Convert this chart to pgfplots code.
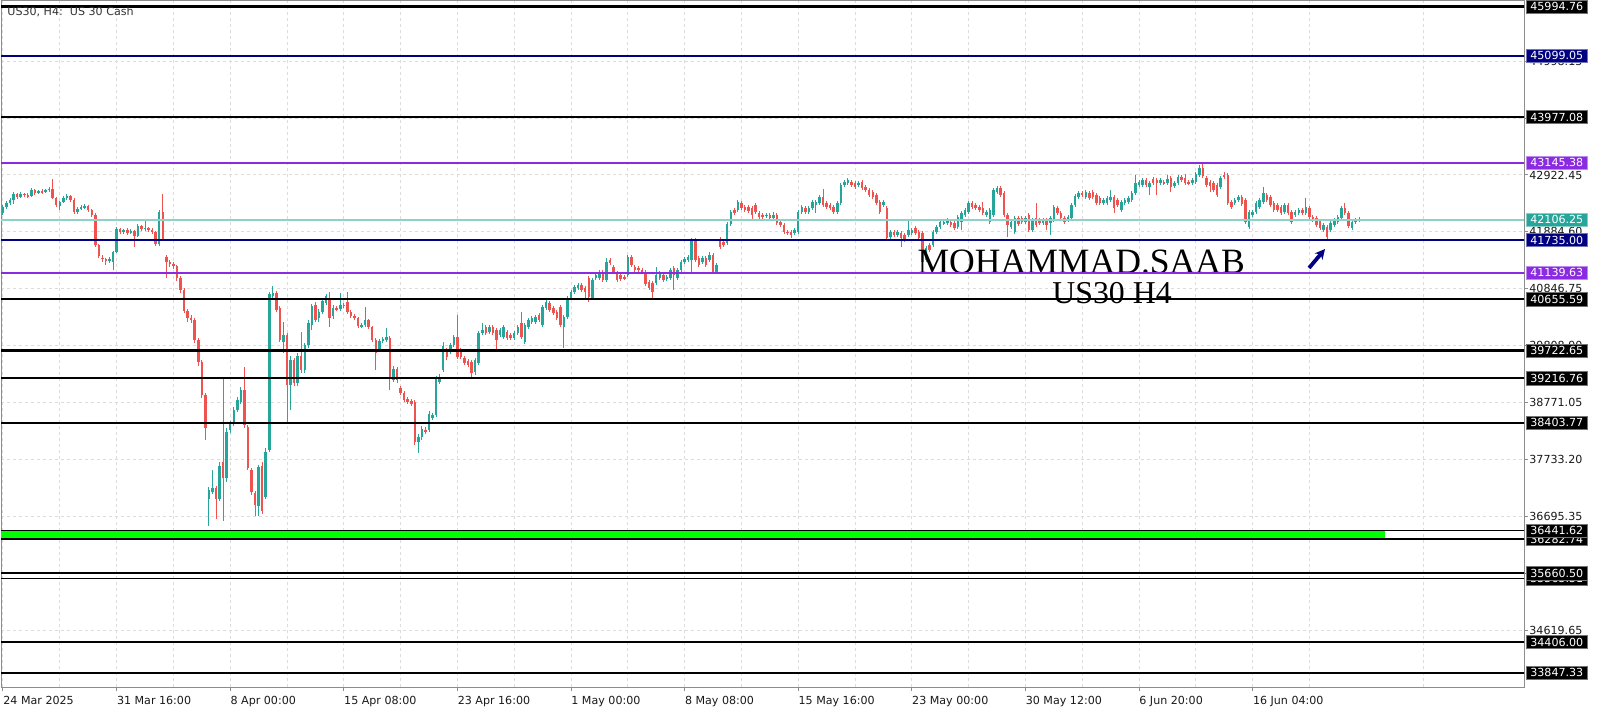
\documentclass[border=0pt]{standalone}
\usepackage{pgfplots}
\usepackage{pgfplotstable}
\pgfplotsset{compat=1.18}
\usetikzlibrary{arrows.meta}
\usepackage{fontspec}
\setmainfont{DejaVu Sans}
\newfontfamily\serifname{Liberation Serif}
\definecolor{upc}{HTML}{26A69A}
\definecolor{dnc}{HTML}{EF5350}
\definecolor{navyc}{HTML}{000080}
\definecolor{purpc}{HTML}{8A2BE2}
\definecolor{bidc}{HTML}{8ED1C8}
\definecolor{bidbox}{HTML}{26A69A}
\definecolor{gridc}{HTML}{DCDCDC}
\definecolor{axc}{HTML}{8C8C8C}
\definecolor{limec}{HTML}{00FF00}
\newcommand\tf{\fontsize{5.55}{6.5}\selectfont}

\pgfplotstableread{
i o h l c
0 42229 42375 42193 42339
1 42339 42448 42302 42412
2 42412 42503 42375 42466
3 42466 42612 42393 42576
4 42576 42594 42485 42521
5 42521 42612 42503 42576
6 42576 42594 42521 42558
7 42558 42594 42503 42539
8 42539 42685 42521 42649
9 42649 42667 42558 42594
10 42594 42649 42576 42630
11 42630 42667 42576 42612
12 42612 42667 42594 42649
13 42649 42703 42612 42667
14 42667 42849 42485 42503
15 42503 42521 42339 42375
16 42357 42448 42284 42430
17 42430 42539 42412 42503
18 42503 42576 42466 42539
19 42539 42558 42430 42466
20 42466 42503 42211 42248
21 42248 42339 42211 42302
22 42302 42375 42284 42339
23 42339 42393 42302 42357
24 42357 42375 42248 42284
25 42284 42302 42156 42193
26 42193 42229 41609 41646
27 41646 41664 41409 41445
28 41409 41464 41336 41391
29 41391 41409 41281 41354
30 41354 41427 41318 41391
31 41336 41537 41190 41518
32 41518 41974 41500 41938
33 41938 41956 41846 41883
34 41883 41938 41846 41919
35 41919 41956 41828 41865
36 41865 41938 41846 41901
37 41901 41919 41609 41810
38 41810 42029 41792 41992
39 41992 42011 41901 41938
40 41938 42102 41901 41956
41 41956 41974 41883 41919
42 41919 41956 41846 41883
43 41883 41901 41628 41664
44 41664 42284 41628 42248
45 42248 42576 41719 41755
46 41427 41464 41044 41336
47 41336 41372 41245 41299
48 41299 41336 41208 41263
49 41263 41281 40989 41044
50 41044 41081 40771 40825
51 40825 40862 40406 40443
52 40443 40479 40242 40315
53 40315 40370 40224 40278
54 40278 40315 39859 39914
55 39914 39950 39440 39513
56 39513 39549 38856 38911
57 38911 38947 38090 38309
58 37014 37233 36521 37178
59 37142 37543 37105 37214
60 37214 37251 36650 37014
61 37014 37689 36978 37616
62 37689 39221 36613 37398
63 37398 38309 37324 38236
64 38273 38437 38218 38382
65 38382 38692 38346 38637
66 38637 38874 38601 38820
67 38783 39057 38747 39002
68 39002 39421 38309 38364
69 38327 38364 37543 37580
70 37543 37580 37087 37142
71 37123 37160 36704 36905
72 36887 37634 36704 37598
73 37616 37689 36741 36795
74 37051 37944 37014 37872
75 37908 40789 37872 40752
76 40716 40898 40661 40771
77 40771 40807 40424 40461
78 40497 40534 39877 39914
79 39877 40242 39677 40005
80 40005 40041 38419 39093
81 39093 39622 38637 39549
82 39549 39586 39075 39130
83 39130 39677 39075 39622
84 39622 40060 39312 39367
85 39367 39859 39312 39823
86 39823 40278 39768 40224
87 40187 40570 40096 40534
88 40552 40607 40242 40278
89 40315 40479 40242 40424
90 40424 40661 40388 40625
91 40588 40752 40552 40716
92 40680 40789 40151 40315
93 40351 40552 40297 40497
94 40497 40534 40443 40479
95 40479 40771 40443 40552
96 40552 40588 40497 40534
97 40607 40789 40388 40424
98 40424 40461 40315 40351
99 40351 40388 40278 40315
100 40315 40333 40133 40169
101 40169 40224 40133 40187
102 40187 40515 40151 40278
103 40278 40297 40114 40151
104 40151 40169 39877 39914
105 39914 39950 39367 39677
106 39731 39932 39695 39896
107 39896 39968 39859 39932
108 39914 40133 39877 39968
109 39950 39987 39002 39203
110 39184 39440 39148 39385
111 39385 39421 39130 39184
112 39038 39075 38911 38947
113 38947 38984 38783 38820
114 38838 38874 38747 38783
115 38801 38838 38710 38747
116 38783 38820 37999 38054
117 38054 38200 37853 38145
118 38145 38346 38090 38291
119 38273 38327 38200 38254
120 38273 38619 38236 38564
121 38491 38582 38455 38546
122 38546 39257 38510 39221
123 39148 39294 39111 39239
124 39367 39877 39330 39804
125 39731 39768 39549 39604
126 39695 39859 39659 39823
127 39823 40005 39786 39968
128 39968 40370 39567 39604
129 39731 39768 39567 39604
130 39586 39622 39458 39494
131 39531 39567 39421 39458
132 39513 39549 39221 39312
133 39330 39586 39276 39549
134 39494 40078 39458 40041
135 40041 40224 40005 40096
136 40151 40187 40005 40041
137 40060 40187 40023 40151
138 40151 40187 40005 40041
139 40096 40133 39731 39914
140 40005 40133 39968 40096
141 39968 40187 39932 40151
142 40060 40096 39914 39950
143 40005 40041 39914 39950
144 39950 40078 39914 40041
145 40041 40187 40005 40151
146 40224 40424 39932 39968
147 39877 40224 39841 40187
148 40151 40315 40114 40278
149 40242 40351 40206 40315
150 40242 40370 40206 40333
151 40370 40406 40242 40278
152 40187 40552 40151 40515
153 40497 40643 40461 40607
154 40588 40625 40424 40461
155 40497 40534 40370 40406
156 40424 40461 40278 40315
157 40515 40552 40151 40187
158 40151 40370 39768 40333
159 40333 40716 40297 40680
160 40680 40825 40643 40789
161 40789 40917 40752 40880
162 40862 40953 40825 40917
163 40917 40953 40789 40825
164 40862 40898 40643 40789
165 41044 41081 40607 40698
166 40680 41044 40643 41008
167 41044 41135 41008 41099
168 41044 41190 41008 41154
169 41154 41190 40971 41008
170 41008 41409 40971 41336
171 41372 41409 41281 41318
172 41245 41281 41117 41154
173 41135 41172 40971 41008
174 41099 41135 40989 41026
175 41062 41099 41008 41044
176 41099 41464 41062 41427
177 41427 41464 41245 41281
178 41245 41281 41154 41190
179 41227 41263 41154 41190
180 41190 41227 41117 41154
181 41154 41190 40898 40935
182 40971 41008 40825 40862
183 40953 40989 40680 40789
184 40953 41245 40917 41099
185 41044 41172 41008 41135
186 41099 41135 40971 41008
187 41026 41099 40989 41062
188 41044 41227 41008 41190
189 41227 41263 40825 41099
190 41044 41227 41008 41190
191 41190 41372 41154 41336
192 41336 41427 41299 41391
193 41372 41464 41336 41427
194 41372 41774 41154 41737
195 41737 41774 41336 41372
196 41409 41445 41245 41281
197 41336 41445 41299 41409
198 41409 41445 41245 41281
199 41372 41518 41336 41464
200 41464 41500 41117 41154
201 41154 41318 41117 41281
202 41737 41792 41573 41609
203 41701 41737 41609 41646
204 41682 42065 41646 42029
205 42029 42284 41992 42248
206 42284 42321 42193 42229
207 42284 42466 42248 42430
208 42412 42448 42284 42321
209 42339 42375 42248 42284
210 42339 42375 42229 42266
211 42321 42357 42102 42193
212 42375 42412 42211 42248
213 42229 42266 42102 42156
214 42193 42229 42120 42156
215 42175 42229 42138 42193
216 42193 42229 42102 42138
217 42138 42248 42102 42193
218 42193 42229 42011 42047
219 42065 42102 41974 42011
220 42011 42047 41846 41883
221 41883 41919 41828 41865
222 41883 41919 41774 41828
223 41865 41956 41828 41919
224 41883 42284 41846 42248
225 42248 42375 42211 42339
226 42321 42357 42211 42248
227 42248 42357 42211 42321
228 42321 42466 42284 42430
229 42375 42466 42229 42430
230 42412 42558 42375 42521
231 42521 42667 42339 42375
232 42412 42448 42302 42339
233 42375 42412 42284 42321
234 42339 42375 42211 42248
235 42248 42448 42211 42412
236 42412 42776 42375 42740
237 42740 42831 42703 42795
238 42776 42868 42740 42831
239 42795 42831 42703 42740
240 42776 42813 42667 42703
241 42740 42813 42703 42776
242 42795 42831 42649 42685
243 42703 42740 42612 42649
244 42649 42685 42521 42558
245 42612 42649 42485 42521
246 42558 42594 42375 42412
247 42430 42466 42211 42248
248 42375 42466 42339 42430
249 42321 42357 41737 41774
250 41792 41919 41755 41883
251 41883 41919 41792 41828
252 41828 41919 41792 41883
253 41865 41901 41609 41774
254 41828 41865 41701 41737
255 41828 42102 41792 41919
256 41865 41956 41828 41919
257 41956 41992 41828 41865
258 41883 41919 41737 41774
259 41865 41901 41299 41336
260 41372 41628 41336 41591
261 41646 41682 41518 41555
262 41646 41919 41609 41883
263 41883 42011 41846 41974
264 41974 42102 41938 42065
265 42047 42102 42011 42065
266 42047 42138 42011 42102
267 42065 42102 41974 42011
268 42047 42084 41919 41956
269 41974 42193 41938 42156
270 42065 42266 41919 42229
271 42193 42321 42156 42284
272 42248 42448 42211 42412
273 42412 42448 42302 42339
274 42375 42412 42284 42321
275 42339 42375 42248 42284
276 42321 42430 42193 42229
277 42193 42284 42156 42248
278 42065 42321 42029 42284
279 42193 42685 42156 42649
280 42612 42722 42576 42685
281 42685 42722 42521 42558
282 42594 42630 42156 42193
283 42193 42229 41792 42011
284 41974 42102 41938 42065
285 41883 42175 41846 42138
286 42138 42175 41992 42029
287 42138 42175 42029 42065
288 42065 42175 42029 42138
289 42193 42229 41883 41919
290 41919 42138 41883 42102
291 42138 42412 41974 42011
292 42102 42138 42011 42047
293 42047 42138 42011 42102
294 42102 42138 41919 42011
295 42047 42175 41828 42138
296 42102 42375 42065 42339
297 42321 42357 42193 42229
298 42229 42266 42102 42138
299 42138 42175 42029 42065
300 42102 42193 42065 42156
301 42138 42412 42102 42375
302 42375 42576 42339 42539
303 42521 42630 42485 42594
304 42594 42630 42521 42558
305 42521 42649 42485 42612
306 42594 42630 42466 42503
307 42612 42649 42485 42521
308 42558 42594 42375 42412
309 42503 42539 42375 42412
310 42412 42503 42375 42466
311 42412 42539 42375 42503
312 42466 42649 42430 42521
313 42521 42558 42229 42321
314 42466 42503 42339 42375
315 42284 42466 42248 42430
316 42412 42503 42375 42466
317 42430 42539 42393 42503
318 42466 42630 42430 42594
319 42594 42922 42558 42776
320 42740 42831 42703 42795
321 42740 42868 42703 42831
322 42831 42868 42703 42740
323 42703 42813 42558 42776
324 42849 42886 42740 42776
325 42831 42868 42558 42776
326 42776 42868 42740 42831
327 42795 42831 42740 42776
328 42776 42922 42740 42849
329 42868 42904 42612 42703
330 42722 42813 42685 42776
331 42776 42922 42740 42886
332 42886 42922 42795 42831
333 42868 42940 42740 42776
334 42795 42831 42740 42776
335 42776 42868 42740 42831
336 42795 42977 42758 42940
337 42922 43104 42886 43050
338 43050 43123 42868 42904
339 42868 42904 42703 42740
340 42795 42831 42612 42722
341 42776 42813 42612 42649
342 42740 42776 42521 42558
343 42703 42904 42667 42868
344 42922 42977 42849 42886
345 42922 42959 42375 42412
346 42430 42466 42302 42339
347 42412 42503 42375 42466
348 42466 42558 42430 42521
349 42521 42558 42357 42393
350 42466 42503 42029 42065
351 41974 42284 41938 42248
352 42193 42284 42156 42248
353 42248 42448 42211 42412
354 42339 42503 42302 42466
355 42430 42703 42393 42594
356 42558 42594 42430 42466
357 42521 42558 42339 42375
358 42412 42448 42248 42284
359 42375 42412 42248 42284
360 42339 42375 42193 42229
361 42248 42412 42211 42375
362 42375 42412 42193 42229
363 42248 42284 42029 42065
364 42193 42284 42156 42248
365 42229 42321 42193 42284
366 42284 42321 42193 42229
367 42229 42503 42193 42339
368 42321 42357 42120 42156
369 42156 42193 42065 42102
370 42138 42175 41974 42011
371 42084 42120 41919 41956
372 41919 42047 41883 42011
373 41974 42011 41755 41792
374 41919 42084 41883 42047
375 42011 42138 41974 42102
376 42065 42193 42029 42156
377 42138 42357 42102 42321
378 42321 42412 42193 42229
379 42229 42266 41956 41992
380 41956 42102 41919 42065
381 42065 42138 42029 42102
382 42102 42156 42065 42106
}\candles

\tikzset{lbl/.style={anchor=west, inner sep=0pt, minimum width=30.5pt, minimum height=6.6pt, text=white, font=\tf, fill=#1, draw=#1!55!white, line width=0.3pt}}
\pgfplotsset{candle/.style={only marks, mark size=0pt, mark options={draw=none, fill=none}, forget plot}}

\begin{document}
\begin{tikzpicture}
\useasboundingbox (0,0) rectangle (800pt,-355.5pt);
\begin{axis}[
  at={(0.5pt,-0.5pt)}, anchor=north west,
  scale only axis, width=761.5pt, height=343pt,
  xmin=-0.563, xmax=428.45, ymin=33586.52, ymax=46095.05,
  axis line style={draw=axc, line width=0.5pt},
  tick align=outside, xtick pos=left, ytick pos=right, yticklabel pos=right,
  major tick length=2pt, minor tick length=0pt,
  tick style={draw=axc, line width=0.5pt},
  xtick={0,32,...,352},
  xticklabels={24 Mar 2025,31 Mar 16:00,8 Apr 00:00,15 Apr 08:00,23 Apr 16:00,1 May 00:00,8 May 08:00,15 May 16:00,23 May 00:00,30 May 12:00,6 Jun 20:00,16 Jun 04:00},
  minor xtick={16,48,...,432},
  ytick={34619.65,35657.50,36695.35,37733.20,38771.05,39808.90,40846.75,41884.60,42922.45,43960.30,44998.15},
  yticklabels={34619.65,35657.50,36695.35,37733.20,38771.05,39808.90,40846.75,41884.60,42922.45,43960.30,44998.15},
  tick label style={font=\tf, text=black!90},
  xticklabel style={anchor=north west, inner sep=0pt, yshift=-2.5pt},
  yticklabel style={anchor=west, inner sep=0pt, xshift=0.5pt},
  xmajorgrids, xminorgrids, ymajorgrids,
  major grid style={draw=gridc, dash pattern=on 1.5pt off 1.5pt, line width=0.5pt},
  minor grid style={draw=gridc, dash pattern=on 1.5pt off 1.5pt, line width=0.5pt},
]
% wicks
\addplot[candle,
  restrict expr to domain={\thisrow{c}-\thisrow{o}}{0:1000000},
  error bars/.cd, y dir=both, y explicit, error mark=none,
  error bar style={draw=upc, line width=0.5pt}]
  table[x=i, y expr={(\thisrow{h}+\thisrow{l})/2}, y error expr={(\thisrow{h}-\thisrow{l})/2}] {\candles};
\addplot[candle,
  restrict expr to domain={\thisrow{o}-\thisrow{c}}{0.5:1000000},
  error bars/.cd, y dir=both, y explicit, error mark=none,
  error bar style={draw=dnc, line width=0.5pt}]
  table[x=i, y expr={(\thisrow{h}+\thisrow{l})/2}, y error expr={(\thisrow{h}-\thisrow{l})/2}] {\candles};
% bodies
\addplot[candle,
  restrict expr to domain={\thisrow{c}-\thisrow{o}}{0:1000000},
  error bars/.cd, y dir=both, y explicit, error mark=none,
  error bar style={draw=upc, line width=1.25pt}]
  table[x=i, y expr={(\thisrow{o}+\thisrow{c})/2}, y error expr={abs(\thisrow{c}-\thisrow{o})/2+4}] {\candles};
\addplot[candle,
  restrict expr to domain={\thisrow{o}-\thisrow{c}}{0.5:1000000},
  error bars/.cd, y dir=both, y explicit, error mark=none,
  error bar style={draw=dnc, line width=1.25pt}]
  table[x=i, y expr={(\thisrow{o}+\thisrow{c})/2}, y error expr={abs(\thisrow{c}-\thisrow{o})/2+4}] {\candles};

% text
\node[anchor=base west, inner sep=0pt, font=\serifname\fontsize{17.8}{18}\selectfont] at (axis cs:257.5,41124) {MOHAMMAD.SAAB};
\node[anchor=base west, inner sep=0pt, font=\serifname\fontsize{15.9}{16}\selectfont] at (axis cs:295.5,40588) {US30 H4};

% green zone
\addplot[draw=none, fill=limec, forget plot] coordinates {(-2,36441.62) (389.3,36441.62) (389.3,36282.74) (-2,36282.74)} -- cycle;

% level lines
\addplot[black, line width=1.1pt, forget plot] coordinates {(-2,45994.76) (440,45994.76)};
\addplot[navyc, line width=1pt, forget plot] coordinates {(-2,45099.05) (440,45099.05)};
\addplot[black, line width=1.1pt, forget plot] coordinates {(-2,43977.08) (440,43977.08)};
\addplot[purpc, line width=1pt, forget plot] coordinates {(-2,43145.38) (440,43145.38)};
\addplot[bidc, line width=1pt, forget plot] coordinates {(-2,42106.25) (440,42106.25)};
\addplot[navyc, line width=1pt, forget plot] coordinates {(-2,41735.00) (440,41735.00)};
\addplot[purpc, line width=1pt, forget plot] coordinates {(-2,41139.63) (440,41139.63)};
\addplot[black, line width=1.1pt, forget plot] coordinates {(-2,40655.59) (440,40655.59)};
\addplot[black, line width=1.1pt, forget plot] coordinates {(-2,39722.65) (440,39722.65)};
\addplot[black, line width=1.1pt, forget plot] coordinates {(-2,39216.76) (440,39216.76)};
\addplot[black, line width=1.1pt, forget plot] coordinates {(-2,38403.77) (440,38403.77)};
\addplot[black, line width=0.8pt, forget plot] coordinates {(-2,36441.62) (440,36441.62)};
\addplot[black, line width=0.8pt, forget plot] coordinates {(-2,36282.74) (440,36282.74)};
\addplot[black, line width=0.9pt, forget plot] coordinates {(-2,35660.50) (440,35660.50)};
\addplot[black, line width=0.9pt, forget plot] coordinates {(-2,35565.51) (440,35565.51)};
\addplot[black, line width=1pt, forget plot] coordinates {(-2,34406.00) (440,34406.00)};
\addplot[black, line width=1pt, forget plot] coordinates {(-2,33847.33) (440,33847.33)};

% arrow
\draw[navyc, line width=1.9pt, -{Stealth[length=5pt, width=5pt]}] (axis cs:367.9,41227) -- (axis cs:372.4,41573);

\coordinate (r1) at (axis cs:428.45,45994.76);
\coordinate (r2) at (axis cs:428.45,45099.05);
\coordinate (r3) at (axis cs:428.45,43977.08);
\coordinate (r4) at (axis cs:428.45,43145.38);
\coordinate (r5) at (axis cs:428.45,42106.25);
\coordinate (r6) at (axis cs:428.45,41735.00);
\coordinate (r7) at (axis cs:428.45,41139.63);
\coordinate (r8) at (axis cs:428.45,40655.59);
\coordinate (r9) at (axis cs:428.45,39722.65);
\coordinate (r10) at (axis cs:428.45,39216.76);
\coordinate (r11) at (axis cs:428.45,38403.77);
\coordinate (r12) at (axis cs:428.45,36441.62);
\coordinate (r13) at (axis cs:428.45,36282.74);
\coordinate (r14) at (axis cs:428.45,35660.50);
\coordinate (r15) at (axis cs:428.45,35565.51);
\coordinate (r16) at (axis cs:428.45,34406.00);
\coordinate (r17) at (axis cs:428.45,33847.33);
\end{axis}

\node[lbl=black] at ([xshift=1pt]r1) {45994.76};
\node[lbl=navyc] at ([xshift=1pt]r2) {45099.05};
\node[lbl=black] at ([xshift=1pt]r3) {43977.08};
\node[lbl=purpc] at ([xshift=1pt]r4) {43145.38};
\node[lbl=bidbox] at ([xshift=1pt]r5) {42106.25};
\node[lbl=navyc] at ([xshift=1pt]r6) {41735.00};
\node[lbl=purpc] at ([xshift=1pt]r7) {41139.63};
\node[lbl=black] at ([xshift=1pt]r8) {40655.59};
\node[lbl=black] at ([xshift=1pt]r9) {39722.65};
\node[lbl=black] at ([xshift=1pt]r10) {39216.76};
\node[lbl=black] at ([xshift=1pt]r11) {38403.77};
\node[lbl=black] at ([xshift=1pt]r13) {36282.74};
\node[lbl=black] at ([xshift=1pt]r12) {36441.62};
\node[lbl=black] at ([xshift=1pt]r15) {35565.51};
\node[lbl=black] at ([xshift=1pt]r14) {35660.50};
\node[lbl=black] at ([xshift=1pt]r16) {34406.00};
\node[lbl=black] at ([xshift=1pt]r17) {33847.33};

\node[anchor=base west, inner sep=0pt, font=\tf, text=black!80] at (3.5pt,-7.8pt) {US30, H4:\ \ US 30 Cash};
\end{tikzpicture}
\end{document}
